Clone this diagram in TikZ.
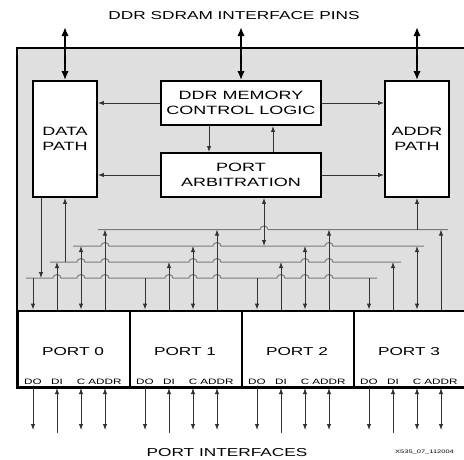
\documentclass[tikz,border=0pt]{standalone}
\usepackage{fontspec}
\setmainfont{Liberation Sans}[FakeStretch=1.5]
\usetikzlibrary{arrows.meta, positioning, calc}
\definecolor{panel}{HTML}{DFDFDF}
\definecolor{wire}{HTML}{7A7A7A}

\begin{document}
\begin{tikzpicture}[
    x=1pt, y=1pt,
    blk/.style={draw, line width=1.8pt, fill=white, align=center, inner sep=0pt, font=\fontsize{12}{14.5}\selectfont},
    portbox/.style={draw, line width=1.8pt, fill=white, anchor=south west, minimum width=112pt, minimum height=76.5pt, inner sep=0pt},
    pin/.style={inner sep=0pt, font=\fontsize{7.8}{9}\selectfont},
    bus/.style={wire, line width=1pt},
    sig/.style={black!80, line width=0.9pt},
    tip/.style={-{Latex[length=6pt, width=4.4pt]}},
    tips/.style={{Latex[length=6pt, width=4.4pt]}-{Latex[length=6pt, width=4.4pt]}},
    pinarr/.style={line width=2.4pt, {Latex[length=9pt, width=7.5pt]}-{Latex[length=9pt, width=7.5pt]}},
]
\useasboundingbox (0,0) rectangle (464,459);
\clip (0,0) rectangle (464,459);

% outer frame
\draw[line width=1.8pt, fill=panel] (17,71) rectangle (470,411);

% blocks
\node[blk, minimum width=64pt, minimum height=116pt] (dp) at (65,320) {DATA\\PATH};
\node[blk, minimum width=64pt, minimum height=116pt] (ap) at (417,320) {ADDR\\PATH};
\node[blk, minimum width=160pt, minimum height=44pt] (ctrl) at (241,356) {DDR MEMORY\\CONTROL LOGIC};
\node[blk, minimum width=160pt, minimum height=44pt] (arb) at (241,284) {PORT\\ARBITRATION};

% pins to the SDRAM
\node[font=\fontsize{11.5}{13}\selectfont] (title) at (234,443.5) {DDR SDRAM INTERFACE PINS};
\draw[pinarr] (dp.north) -- ++(0,53);
\draw[pinarr] (ctrl.north) -- ++(0,53);
\draw[pinarr] (ap.north) -- ++(0,53);

% control paths
\draw[sig, tip] (ctrl.west) -- (dp.east |- ctrl.west);
\draw[sig, tip] (ctrl.east) -- (ap.west |- ctrl.east);
\draw[sig, tip] (arb.west) -- (dp.east |- arb.west);
\draw[sig, tip] (arb.east) -- (ap.west |- arb.east);
\draw[sig, tip] ([xshift=-32pt]ctrl.south) -- ([xshift=-32pt]arb.north);
\draw[sig, tip] ([xshift=32pt]arb.north) -- ([xshift=32pt]ctrl.south);

% buses (ADDR, C, DI, DO)
\coordinate (busA) at (0,229.5);
\coordinate (busB) at (0,213);
\coordinate (busC) at (0,197);
\coordinate (busD) at (0,181);
\draw[bus] (98,229.5) \foreach \h in {264} { -- (\h-4,229.5) arc[start angle=180, end angle=0, x radius=4, y radius=3.5] } -- (448,229.5);
\draw[bus] (73,213) \foreach \h in {105,217,329} { -- (\h-4,213) arc[start angle=180, end angle=0, x radius=4, y radius=3.5] } -- (424,213);
\draw[bus] (50,197) \foreach \h in {81,105,193,217,305,329} { -- (\h-4,197) arc[start angle=180, end angle=0, x radius=4, y radius=3.5] } -- (401,197);
\draw[bus] (26,181) \foreach \h in {57,81,105,169,193,217,281,305,329} { -- (\h-4,181) arc[start angle=180, end angle=0, x radius=4, y radius=3.5] } -- (377,181);

\draw[sig, tip] ([xshift=-24pt]dp.south) -- ([xshift=-24pt]dp.south |- busD);
\draw[sig, tip] (dp.south |- busC) -- (dp.south);
\draw[sig, tips] ([xshift=23pt]arb.south) -- ([xshift=23pt]arb.south |- busB);
\draw[sig, tip] (ap.south |- busA) -- (ap.south);

% ports
\foreach \k in {0,...,3} {
  \node[portbox] (p\k) at (17+112*\k,71) {};
  \node[font=\fontsize{11.5}{13}\selectfont] (pl\k) at (73+112*\k,107) {PORT \k};
  \node[pin] (do\k) at (33+112*\k,77) {DO};
  \node[pin] (di\k) at (57+112*\k,77) {DI};
  \node[pin] (c\k) at (81+112*\k,77) {C};
  \node[pin] (ad\k) at (105+112*\k,77) {ADDR};
  \draw[sig, tip] (do\k |- busD) -- (do\k |- p\k.north);
  \draw[sig, tip] (di\k |- p\k.north) -- (di\k |- busC);
  \draw[sig, tips] (c\k |- p\k.north) -- (c\k |- busB);
  \draw[sig, tip] (ad\k |- p\k.north) -- (ad\k |- busA);
  \draw[sig, tip] (do\k |- p\k.south) -- ++(0,-42);
  \draw[sig, tip] (di\k |- p\k.south) ++(0,-45) -- (di\k |- p\k.south);
  \draw[sig, tips] (c\k |- p\k.south) -- ++(0,-42);
  \draw[sig, tips] (ad\k |- p\k.south) -- ++(0,-42);
}

\node[font=\fontsize{11.5}{13}\selectfont] (ifc) at (227,6) {PORT INTERFACES};
\node[anchor=west, inner sep=0pt, font=\fontsize{5}{6}\selectfont] (tag) at (395,7) {X535\_07\_112004};
\end{tikzpicture}
\end{document}
